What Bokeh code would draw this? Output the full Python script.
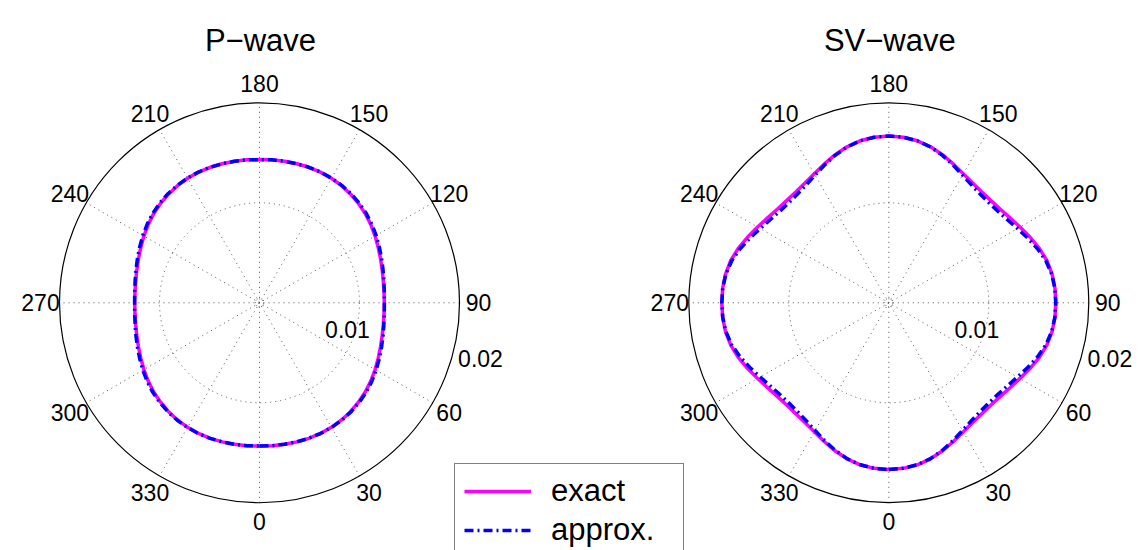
import numpy as np
from bokeh.plotting import figure
from bokeh.models import Range1d, Legend, LegendItem
from bokeh.embed import file_html
from bokeh.resources import INLINE
from bokeh.core.properties import value

# ---------------- data ----------------
theta_deg = list(range(0, 365, 5))  # 0 at bottom, 90 at right, 180 at top

p_exact = [
    0.01432, 0.01435, 0.01437, 0.01440, 0.01442, 0.01442, 0.01438, 0.01430, 0.01418, 0.01402,
    0.01383, 0.01360, 0.01335, 0.01310, 0.01288, 0.01270, 0.01257, 0.01250, 0.01248,
    0.01250, 0.01257, 0.01270, 0.01288, 0.01310, 0.01335, 0.01360, 0.01383, 0.01402, 0.01418,
    0.01430, 0.01438, 0.01442, 0.01442, 0.01440, 0.01437, 0.01435, 0.01432,
    0.01435, 0.01437, 0.01440, 0.01442, 0.01442, 0.01438, 0.01430, 0.01418, 0.01402, 0.01383,
    0.01360, 0.01335, 0.01310, 0.01288, 0.01270, 0.01257, 0.01250, 0.01248,
    0.01250, 0.01257, 0.01270, 0.01288, 0.01310, 0.01335, 0.01360, 0.01383, 0.01402, 0.01418,
    0.01430, 0.01438, 0.01442, 0.01442, 0.01440, 0.01437, 0.01435, 0.01432,
]
p_approx = [
    0.01432, 0.01435, 0.01437, 0.01440, 0.01442, 0.01443, 0.01440, 0.01434, 0.01424, 0.01410,
    0.01393, 0.01371, 0.01347, 0.01322, 0.01299, 0.01279, 0.01263, 0.01253, 0.01249,
    0.01253, 0.01263, 0.01279, 0.01299, 0.01322, 0.01347, 0.01371, 0.01393, 0.01410, 0.01424,
    0.01434, 0.01440, 0.01443, 0.01442, 0.01440, 0.01437, 0.01435, 0.01432,
    0.01435, 0.01437, 0.01440, 0.01442, 0.01443, 0.01440, 0.01434, 0.01424, 0.01410, 0.01393,
    0.01371, 0.01347, 0.01322, 0.01299, 0.01279, 0.01263, 0.01253, 0.01249,
    0.01253, 0.01263, 0.01279, 0.01299, 0.01322, 0.01347, 0.01371, 0.01393, 0.01410, 0.01424,
    0.01434, 0.01440, 0.01443, 0.01442, 0.01440, 0.01437, 0.01435, 0.01432,
]
sv_exact = [
    0.01668, 0.01662, 0.01645, 0.01615, 0.01574, 0.01530, 0.01490, 0.01462, 0.01447, 0.01445,
    0.01456, 0.01480, 0.01515, 0.01557, 0.01600, 0.01636, 0.01658, 0.01668, 0.01670,
    0.01668, 0.01658, 0.01636, 0.01600, 0.01557, 0.01515, 0.01480, 0.01456, 0.01445, 0.01447,
    0.01462, 0.01490, 0.01530, 0.01574, 0.01615, 0.01645, 0.01662, 0.01668,
    0.01662, 0.01645, 0.01615, 0.01574, 0.01530, 0.01490, 0.01462, 0.01447, 0.01445, 0.01456,
    0.01480, 0.01515, 0.01557, 0.01600, 0.01636, 0.01658, 0.01668, 0.01670,
    0.01668, 0.01658, 0.01636, 0.01600, 0.01557, 0.01515, 0.01480, 0.01456, 0.01445, 0.01447,
    0.01462, 0.01490, 0.01530, 0.01574, 0.01615, 0.01645, 0.01662, 0.01668,
]
sv_approx = [
    0.01668, 0.01662, 0.01645, 0.01613, 0.01569, 0.01520, 0.01474, 0.01440, 0.01420, 0.01415,
    0.01424, 0.01448, 0.01485, 0.01532, 0.01582, 0.01626, 0.01654, 0.01667, 0.01670,
    0.01667, 0.01654, 0.01626, 0.01582, 0.01532, 0.01485, 0.01448, 0.01424, 0.01415, 0.01420,
    0.01440, 0.01474, 0.01520, 0.01569, 0.01613, 0.01645, 0.01662, 0.01668,
    0.01662, 0.01645, 0.01613, 0.01569, 0.01520, 0.01474, 0.01440, 0.01420, 0.01415, 0.01424,
    0.01448, 0.01485, 0.01532, 0.01582, 0.01626, 0.01654, 0.01667, 0.01670,
    0.01667, 0.01654, 0.01626, 0.01582, 0.01532, 0.01485, 0.01448, 0.01424, 0.01415, 0.01420,
    0.01440, 0.01474, 0.01520, 0.01569, 0.01613, 0.01645, 0.01662, 0.01668,
]

titles = ["P\u2212wave", "SV\u2212wave"]
angle_ticks = [0, 30, 60, 90, 120, 150, 180, 210, 240, 270, 300, 330]
angle_tick_labels = ["0", "30", "60", "90", "120", "150", "180", "210", "240", "270", "300", "330"]
r_ticks = [0.01, 0.02]
r_tick_labels = ["0.01", "0.02"]
legend_labels = ["exact", "approx."]

# ---------------- layout ----------------
W, H = 1139, 550
S = 10000.0          # pixels per data unit
CX0_PX, CY_PX = 259.0, 302.3
centers = [0.0, (888.3 - CX0_PX) / S]
RMAX = 0.02
FONT = "Liberation Sans"

p = figure(width=W, height=H, output_backend="svg", toolbar_location=None,
           min_border=0, x_range=Range1d(-CX0_PX / S, (W - CX0_PX) / S),
           y_range=Range1d(-(H - CY_PX) / S, CY_PX / S))
p.axis.visible = False
p.grid.visible = False
p.outline_line_color = None
p.background_fill_color = "white"
p.border_fill_color = "white"


def polar_xy(cx, th_deg, r):
    th = np.radians(np.asarray(th_deg, dtype=float))
    r = np.asarray(r, dtype=float)
    return cx + r * np.sin(th), -r * np.cos(th)


grid_color = "#555555"
exact_renderers = []
approx_renderers = []
for k, cx in enumerate(centers):
    # spokes
    xs, ys = [], []
    for a in angle_ticks[:6]:
        x, y = polar_xy(cx, [a, a + 180], [RMAX, RMAX])
        xs.append(list(x)); ys.append(list(y))
    p.multi_line(xs, ys, line_color=grid_color, line_width=1, line_dash="1 4")
    # inner ring (dotted) and outer ring (solid)
    p.circle(x=[cx], y=[0], radius=r_ticks[0], fill_color=None,
             line_color=grid_color, line_width=1, line_dash="1 4")
    p.circle(x=[cx], y=[0], radius=0.0004, fill_color=None,
             line_color=grid_color, line_width=1, line_dash="1 2")
    p.circle(x=[cx], y=[0], radius=RMAX, fill_color=None,
             line_color="black", line_width=1.2)

    # curves
    ex = p_exact if k == 0 else sv_exact
    ap = p_approx if k == 0 else sv_approx
    x, y = polar_xy(cx, theta_deg, ex)
    r1 = p.line(x, y, line_color="#ff00ff", line_width=3.5)
    x, y = polar_xy(cx, theta_deg, ap)
    r2 = p.line(x, y, line_color="#0000ff", line_width=3.5, line_dash="9 4 2 4")
    exact_renderers.append(r1)
    approx_renderers.append(r2)

    # angle labels
    lx, ly = polar_xy(cx, angle_ticks, [0.0219] * len(angle_ticks))
    p.text(x=list(lx), y=list(ly), text=angle_tick_labels, text_align="center",
           text_baseline="middle", text_font=value(FONT), text_font_size="23px",
           text_color="black")
    # radial labels
    p.text(x=[cx + 88 / S, cx + 221 / S], y=[-27 / S, -56 / S], text=r_tick_labels,
           text_align="center", text_baseline="middle", text_font=value(FONT),
           text_font_size="23px", text_color="black")
    # title
    p.text(x=[cx + 1 / S], y=[(CY_PX - 40) / S], text=[titles[k]], text_align="center",
           text_baseline="alphabetic", text_font=value(FONT), text_font_size="31px",
           text_color="black")

legend = Legend(items=[LegendItem(label=legend_labels[0], renderers=exact_renderers[:1]),
                       LegendItem(label=legend_labels[1], renderers=approx_renderers[:1])],
                location=(454, -8), orientation="vertical",
                label_text_font=FONT, label_text_font_size="31px",
                label_text_color="black",
                glyph_width=67, glyph_height=26, label_height=26, label_width=123,
                label_standoff=20, spacing=3, padding=9, margin=0,
                border_line_color="black", border_line_width=1,
                background_fill_color="white", background_fill_alpha=1.0)
p.add_layout(legend, "center")

open("out.html", "w").write(file_html(p, INLINE))
